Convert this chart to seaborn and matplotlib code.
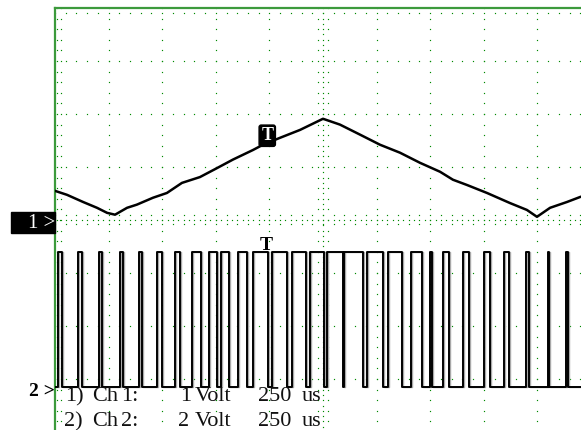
import numpy as np
import seaborn as sns
import matplotlib.pyplot as plt
from matplotlib.patches import Rectangle

# scope settings
time_per_div = 250        # us / div
ch1_volts_per_div = 1
ch2_volts_per_div = 2
ch1_ground_div = -0.11    # where the "1>" marker sits
ch2_ground_div = -3.26    # where the "2>" marker sits

# channel 1 - triangle
ch1_time_us = [0, 56, 131, 196, 243, 280, 336, 382, 457, 522, 592, 676, 756, 830,
               923, 970, 1049, 1143, 1250, 1329, 1423, 1516, 1609, 1702, 1796, 1856,
               1922, 2015, 2122, 2201, 2248, 2309, 2388, 2453]
ch1_volts = [0.66, 0.585, 0.45, 0.34, 0.245, 0.21, 0.34, 0.40, 0.53, 0.62, 0.81, 0.92,
             1.09, 1.25, 1.43, 1.53, 1.66, 1.81, 2.02, 1.91, 1.72, 1.53, 1.38, 1.19,
             1.02, 0.87, 0.77, 0.62, 0.43, 0.30, 0.17, 0.34, 0.45, 0.55]

# channel 2 - pwm, rising / falling edges in us
ch2_rise_us = [14, 107, 205, 303, 392, 476, 560, 639, 718, 774, 854, 923, 1012, 1105,
               1189, 1269, 1348, 1455, 1553, 1660, 1749, 1810, 1903, 2001, 2094, 2197,
               2299, 2383]
ch2_fall_us = [33, 126, 219, 317, 406, 499, 583, 681, 756, 812, 895, 993, 1082, 1171,
               1255, 1343, 1437, 1530, 1618, 1712, 1758, 1838, 1931, 2029, 2117, 2211,
               2304, 2393]
ch2_low_v = 0.23
ch2_high_v = 5.32

# trigger markers
trig1_time_us, trig1_v = 990, 1.70
trig2_time_us, trig2_v = 984, 5.55

sns.set_style('white')
plt.rcParams['font.family'] = ['Liberation Serif', 'DejaVu Serif']

W, H = 581, 430
fig = plt.figure(figsize=(W / 100, H / 100), dpi=100)
fig.patch.set_facecolor('white')
# screen is 10 x 8 div, cut off on the right and bottom
ax = fig.add_axes([55 / W, -2 / H, 536 / W, 424 / H])
ax.set_xlim(0, 10 * time_per_div)
ax.set_ylim(-4, 4)
ax.set_xticks([])
ax.set_yticks([])
for s in ['right', 'bottom']:
    ax.spines[s].set_visible(False)
for s in ['left', 'top']:
    ax.spines[s].set_color('#3c9a3c')
    ax.spines[s].set_linewidth(1.6)

# dotted graticule
green = '#008a00'
dx = time_per_div / 5
gx = np.arange(0, 10 * time_per_div + 1, dx)
gy = np.arange(-4, 4.01, 0.2)
px, py = [], []
for yy in range(-3, 4):
    if yy == 0:
        continue
    px += list(gx)
    py += [yy] * len(gx)
for xx in np.arange(time_per_div, 10 * time_per_div, time_per_div):
    if xx == 5 * time_per_div:
        continue
    px += [xx] * len(gy)
    py += list(gy)
# center cross with finer ticks
cx = np.arange(0, 10 * time_per_div + 1, dx / 2)
px += list(cx); py += [0] * len(cx)
px += list(gx) * 2; py += [0.09] * len(gx) + [-0.08] * len(gx)
cy = np.arange(-4, 4.01, 0.1)
px += [5 * time_per_div] * len(cy); py += list(cy)
px += [5 * time_per_div - 23] * len(gy) + [5 * time_per_div + 23] * len(gy)
py += list(gy) * 2
# border ticks
px += [9] * len(gy) + [28] * len(gy); py += list(gy) * 2
px += list(gx); py += [3.9] * len(gx)
ax.plot(px, py, ls='none', marker='s', ms=0.85, mew=0, color=green, zorder=1)

# channel 1
ch1_div = np.array(ch1_volts) / ch1_volts_per_div + ch1_ground_div
sns.lineplot(x=ch1_time_us, y=ch1_div, sort=False, estimator=None, ax=ax,
             color='black', lw=1.8, zorder=3)

# channel 2
t2, v2 = [0], [ch2_low_v]
for r, f in zip(ch2_rise_us, ch2_fall_us):
    t2 += [r, r, f, f]
    v2 += [ch2_low_v, ch2_high_v, ch2_high_v, ch2_low_v]
t2.append(10 * time_per_div)
v2.append(ch2_low_v)
ch2_div = np.array(v2) / ch2_volts_per_div + ch2_ground_div
sns.lineplot(x=np.array(t2) + 6, y=ch2_div - 0.01, sort=False, estimator=None, ax=ax,
             color='#a8a8a8', lw=1.0, zorder=2)
sns.lineplot(x=t2, y=ch2_div, sort=False, estimator=None, ax=ax,
             color='black', lw=1.4, zorder=3)

# trigger markers
ax.text(trig1_time_us, trig1_v / ch1_volts_per_div + ch1_ground_div, 'T',
        color='white', fontsize=13, fontweight='bold', ha='center', va='center',
        bbox=dict(boxstyle='round,pad=0.12', fc='black', ec='black'), zorder=4)
ax.text(trig2_time_us, trig2_v / ch2_volts_per_div + ch2_ground_div, 'T',
        color='black', fontsize=14, fontweight='bold', ha='center', va='center', zorder=4)

# channel ground markers
fig.patches.append(Rectangle((11 / W, 1 - 233 / H), 44 / W, 21 / H,
                             transform=fig.transFigure, color='black'))
fig.text(55 / W, 1 - 223 / H, '1 >', color='white', fontsize=15,
         ha='right', va='center')
fig.text(55 / W, 1 - 392 / H, '2 >', color='black', fontsize=14, fontweight='bold',
         ha='right', va='center')

# channel readout
for base, words in [(401, [('1)', 65), ('Ch', 92), ('1:', 121), ('1', 180),
                           ('Volt', 195), ('250', 258), ('us', 302)]),
                    (426, [('2)', 64), ('Ch', 92), ('2:', 121), ('2', 178),
                           ('Volt', 195), ('250', 258), ('us', 302)])]:
    for w, x in words:
        fig.text(x / W, 1 - base / H, w, fontsize=16, color='#111111',
                 ha='left', va='baseline')

fig.savefig('out.png', dpi=100)
